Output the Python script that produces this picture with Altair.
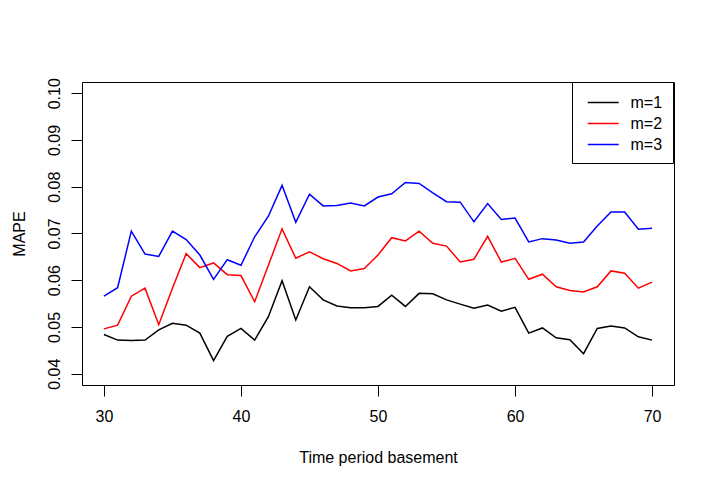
import altair as alt
import pandas as pd

periods = list(range(30, 71))
mape_m1 = [0.0484, 0.0472, 0.0471, 0.0472, 0.0494, 0.0508, 0.0504, 0.0487, 0.0428, 0.0480,
           0.0497, 0.0472, 0.0522, 0.0599, 0.0515, 0.0586, 0.0558, 0.0545, 0.0541, 0.0541,
           0.0544, 0.0568, 0.0544, 0.0572, 0.0571, 0.0558, 0.0549, 0.0540, 0.0547, 0.0534,
           0.0542, 0.0487, 0.0498, 0.0477, 0.0473, 0.0443, 0.0497, 0.0502, 0.0498, 0.0479,
           0.0472]
mape_m2 = [0.0496, 0.0504, 0.0566, 0.0583, 0.0505, 0.0583, 0.0657, 0.0627, 0.0637, 0.0612,
           0.0610, 0.0554, 0.0632, 0.0710, 0.0647, 0.0661, 0.0646, 0.0636, 0.0620, 0.0625,
           0.0654, 0.0691, 0.0684, 0.0705, 0.0679, 0.0673, 0.0639, 0.0645, 0.0694, 0.0639,
           0.0647, 0.0602, 0.0613, 0.0586, 0.0578, 0.0575, 0.0586, 0.0620, 0.0615, 0.0583,
           0.0596]
mape_m3 = [0.0566, 0.0584, 0.0705, 0.0656, 0.0651, 0.0705, 0.0687, 0.0654, 0.0602, 0.0644,
           0.0632, 0.0693, 0.0737, 0.0803, 0.0724, 0.0784, 0.0759, 0.0760, 0.0765, 0.0759,
           0.0778, 0.0785, 0.0809, 0.0807, 0.0787, 0.0768, 0.0767, 0.0725, 0.0764, 0.0730,
           0.0733, 0.0682, 0.0689, 0.0686, 0.0679, 0.0682, 0.0716, 0.0746, 0.0746, 0.0709,
           0.0711]
series_names = ["m=1", "m=2", "m=3"]
series_colors = ["black", "#ff0000", "#0000ff"]
x_ticks = [30, 40, 50, 60, 70]
y_ticks = [0.04, 0.05, 0.06, 0.07, 0.08, 0.09, 0.10]

rows = []
for name, vals in zip(series_names, [mape_m1, mape_m2, mape_m3]):
    for p, v in zip(periods, vals):
        rows.append({"period": p, "mape": v, "series": name})
df = pd.DataFrame(rows)

FONT = "Liberation Sans"

chart = alt.Chart(df).mark_line(strokeWidth=1.5, clip=True).encode(
    x=alt.X("period:Q",
            scale=alt.Scale(domain=[28.4, 71.6], nice=False, zero=False),
            axis=alt.Axis(values=x_ticks, title="Time period basement", grid=False,
                          domain=False, tickSize=11, tickColor="black", labelColor="black",
                          labelFontSize=16, labelPadding=12, labelFont=FONT,
                          titleFont=FONT, titleFontSize=16, titleFontWeight="normal",
                          titleColor="black", titleBaseline="alphabetic",
                          titleX=296, titleY=77, titleAlign="center")),
    y=alt.Y("mape:Q",
            scale=alt.Scale(domain=[0.0376, 0.1024], nice=False, zero=False),
            axis=alt.Axis(values=y_ticks, format=".2f", title="MAPE", grid=False,
                          domain=False, tickSize=11, tickColor="black", labelColor="black",
                          labelFontSize=16, labelPadding=9, labelFont=FONT,
                          labelAngle=270, labelAlign="center", labelBaseline="bottom",
                          titleFont=FONT, titleFontSize=16, titleFontWeight="normal",
                          titleColor="black", titleAngle=270, titleBaseline="bottom",
                          titleAlign="center", titleX=-55, titleY=151.5)),
    color=alt.Color("series:N",
                    scale=alt.Scale(domain=series_names, range=series_colors),
                    legend=alt.Legend(title=None, orient="none", legendX=490, legendY=0,
                                      strokeColor="black", fillColor="white", padding=10,
                                      cornerRadius=0, symbolType="M-1.59,0H1.59",
                                      symbolSize=380, symbolStrokeWidth=1.5,
                                      symbolOffset=10.75, labelOffset=16.75,
                                      labelFontSize=16, labelFont=FONT, labelColor="black",
                                      rowPadding=2)),
).properties(
    width=592, height=303,
    padding={"left": 74, "top": 74, "right": 20, "bottom": 90},
    autosize=alt.AutoSizeParams(type="none"),
    background="white",
).configure_view(
    stroke="black", strokeWidth=1
)

chart.save("out.html", embed_options={"renderer": "svg", "actions": False})
